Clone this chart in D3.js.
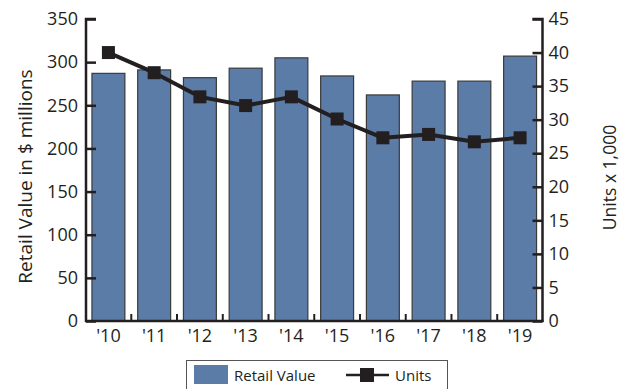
<!DOCTYPE html>
<html>
<head>
<meta charset="utf-8">
<script src="https://cdn.jsdelivr.net/npm/d3@7/dist/d3.min.js"></script>
<style>
  html, body { margin: 0; padding: 0; background: #fff; }
  svg { display: block; font-family: "Open Sans", sans-serif; }
</style>
</head>
<body>
<svg id="chart" width="628" height="389"></svg>
<script>
const years = ["'10", "'11", "'12", "'13", "'14", "'15", "'16", "'17", "'18", "'19"];
const retailValue = [287, 291, 282, 293, 305, 284, 262, 278, 278, 307];
const units = [40.0, 37.0, 33.4, 32.1, 33.4, 30.1, 27.3, 27.8, 26.7, 27.3];
const leftTicks = [0, 50, 100, 150, 200, 250, 300, 350];
const rightTicks = [0, 5, 10, 15, 20, 25, 30, 35, 40, 45];

(function () {
const svg = d3.select("#chart");
const pL = 86, pR = 542.5, pT = 19, pB = 321;
const ink = "#231f20";

const x = d3.scaleBand().domain(years).range([pL, pR]).paddingInner(0.28).paddingOuter(0.13);
const yL = d3.scaleLinear().domain([0, 350]).range([pB, pT]);
const yR = d3.scaleLinear().domain([0, 45]).range([pB, pT]);

// bars
svg.append("g").selectAll("rect").data(years).join("rect")
  .attr("x", d => x(d))
  .attr("y", (d, i) => yL(retailValue[i]))
  .attr("width", x.bandwidth())
  .attr("height", (d, i) => pB - yL(retailValue[i]))
  .attr("fill", "#5b7ca7")
  .attr("stroke", "#3a3a3a")
  .attr("stroke-width", 1.2);

// left axis
const gL = svg.append("g").attr("transform", `translate(${pL},0)`)
  .call(d3.axisRight(yL).tickValues(leftTicks).tickSize(10).tickFormat(d3.format("d")));
gL.select(".domain").attr("stroke", ink).attr("stroke-width", 2.5).attr("d", `M10,${pT}H0V${pB + 1}`);
gL.selectAll(".tick line").attr("stroke", ink).attr("stroke-width", 2.5);
gL.selectAll(".tick text").attr("x", -8).attr("text-anchor", "end")
  .attr("font-size", 18).attr("fill", ink).attr("font-family", "Open Sans");

// right axis
const gR = svg.append("g").attr("transform", `translate(${pR},0)`)
  .call(d3.axisLeft(yR).tickValues(rightTicks).tickSize(10).tickFormat(d3.format("d")));
gR.select(".domain").attr("stroke", ink).attr("stroke-width", 2.5).attr("d", `M-10,${pT}H0V${pB + 1}`);
gR.selectAll(".tick line").attr("stroke", ink).attr("stroke-width", 2.5);
gR.selectAll(".tick text").attr("x", 6).attr("text-anchor", "start")
  .attr("font-size", 18).attr("fill", ink).attr("font-family", "Open Sans");

// x axis baseline
svg.append("line").attr("x1", pL - 1).attr("x2", pR + 1).attr("y1", pB).attr("y2", pB)
  .attr("stroke", ink).attr("stroke-width", 2.5);
// x ticks between bands
const step = x.step();
svg.append("g").selectAll("line").data(years.slice(1)).join("line")
  .attr("x1", d => x(d) - (step - x.bandwidth()) / 2)
  .attr("x2", d => x(d) - (step - x.bandwidth()) / 2)
  .attr("y1", pB).attr("y2", pB - 7)
  .attr("stroke", ink).attr("stroke-width", 2);
// x labels
svg.append("g").selectAll("text").data(years).join("text")
  .attr("x", d => x(d) + x.bandwidth() / 2)
  .attr("y", 342)
  .attr("text-anchor", "middle")
  .attr("font-size", 18).attr("fill", ink)
  .text(d => d);

// units line
const line = d3.line().x((d, i) => x(years[i]) + x.bandwidth() / 2).y(d => yR(d));
svg.append("path").datum(units).attr("d", line)
  .attr("fill", "none").attr("stroke", ink).attr("stroke-width", 4).attr("stroke-linejoin", "round");
const ms = 13;
svg.append("g").selectAll("rect").data(units).join("rect")
  .attr("x", (d, i) => x(years[i]) + x.bandwidth() / 2 - ms / 2)
  .attr("y", d => yR(d) - ms / 2)
  .attr("width", ms).attr("height", ms)
  .attr("fill", ink);

// axis titles
svg.append("text")
  .attr("transform", `translate(32,176.5) rotate(-90)`)
  .attr("text-anchor", "middle").attr("font-size", 19).attr("fill", ink)
  .text("Retail Value in $ millions");
svg.append("text")
  .attr("transform", `translate(616,177.5) rotate(-90)`)
  .attr("text-anchor", "middle").attr("font-size", 17.5).attr("fill", ink)
  .text("Units x 1,000");

// legend
const lg = svg.append("g");
lg.append("rect").attr("x", 186.5).attr("y", 360.5).attr("width", 261).attr("height", 40)
  .attr("fill", "#fff").attr("stroke", "#555").attr("stroke-width", 1);
lg.append("rect").attr("x", 194).attr("y", 365).attr("width", 34).attr("height", 19).attr("fill", "#5b7ca7");
lg.append("text").attr("x", 234).attr("y", 381).attr("font-size", 15).attr("fill", ink).text("Retail Value");
lg.append("line").attr("x1", 346).attr("x2", 389).attr("y1", 375).attr("y2", 375)
  .attr("stroke", ink).attr("stroke-width", 2.5);
lg.append("rect").attr("x", 360).attr("y", 368).attr("width", 14).attr("height", 14).attr("fill", ink);
lg.append("text").attr("x", 395).attr("y", 381).attr("font-size", 15).attr("fill", ink).text("Units");
})();
</script>
</body>
</html>
